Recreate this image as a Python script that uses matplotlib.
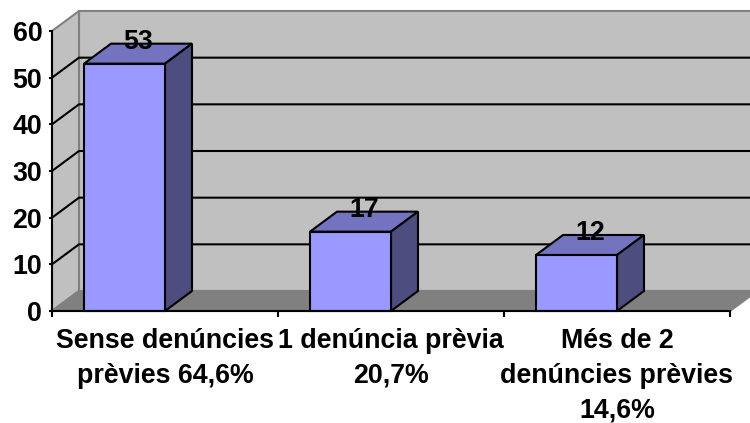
import matplotlib
matplotlib.use("Agg")
import matplotlib.pyplot as plt
from matplotlib.patches import Polygon

# data
categories = ["Sense denúncies\nprèvies 64,6%", "1 denúncia prèvia\n20,7%", "Més de 2\ndenúncies prèvies\n14,6%"]
values = [53, 17, 12]
y_ticks = [0, 10, 20, 30, 40, 50, 60]

# fake 3d depth, in data units
DX = 27 / 226
DY = 20 / (280 / 60)
BAR_W = 81 / 226
LW = 1.5
FS = 19.3

plt.rcParams["font.family"] = ["Liberation Sans", "DejaVu Sans"]
plt.rcParams["font.weight"] = "bold"

W, H = 750, 423
fig = plt.figure(figsize=(W / 100, H / 100), dpi=100)
ax = fig.add_axes([52 / W, 1 - 311 / H, 678 / W, 280 / H])
ax.set_xlim(-0.5, 2.5)
ax.set_ylim(0, 60)
ax.patch.set_visible(False)

# walls and floor
x0, x1 = -0.5, 2.5
y1 = 60
wall_kw = dict(clip_on=False, joinstyle="miter")
ax.add_patch(Polygon([(x0 + DX, DY), (x1 + DX, DY), (x1 + DX, y1 + DY), (x0 + DX, y1 + DY)],
                     fc="#C0C0C0", ec="#808080", lw=LW, zorder=1, **wall_kw))
ax.add_patch(Polygon([(x0, 0), (x0 + DX, DY), (x0 + DX, y1 + DY), (x0, y1)],
                     fc="#C0C0C0", ec="#808080", lw=LW, zorder=1, **wall_kw))
ax.add_patch(Polygon([(x0, 0), (x1, 0), (x1 + DX, DY), (x0 + DX, DY)],
                     fc="#808080", ec="#808080", lw=LW, zorder=1, **wall_kw))

# gridlines, side wall then back wall
for t in y_ticks[1:-1]:
    ax.plot([x0, x0 + DX, x1 + DX], [t, t + DY, t + DY], color="black", lw=LW, zorder=2,
            clip_on=False, solid_joinstyle="miter")

# bars
for i, v in enumerate(values):
    left, right = i - BAR_W, i
    ax.add_patch(Polygon([(left, v), (right, v), (right + DX, v + DY), (left + DX, v + DY)],
                         fc="#7373BF", ec="black", lw=LW, zorder=3, clip_on=False))
    ax.add_patch(Polygon([(right, 0), (right + DX, DY), (right + DX, v + DY), (right, v)],
                         fc="#4D4D80", ec="black", lw=LW, zorder=3, clip_on=False))
    ax.add_patch(Polygon([(left, 0), (right, 0), (right, v), (left, v)],
                         fc="#9999FF", ec="black", lw=LW, zorder=4, clip_on=False))
    ax.text(i - BAR_W / 2 + DX / 2, v + DY + 0.4, str(v), ha="center", va="center",
            fontsize=FS, zorder=5)

# axes
for s in ["top", "right"]:
    ax.spines[s].set_visible(False)
for s in ["left", "bottom"]:
    ax.spines[s].set_linewidth(LW)
    ax.spines[s].set_zorder(6)
ax.set_yticks(y_ticks)
ax.tick_params(axis="y", length=2.5, width=LW, labelsize=FS, pad=4.5)
ax.set_xticks([-0.5, 0.5, 1.5, 2.5])
ax.set_xticklabels([])
ax.tick_params(axis="x", which="major", length=4, width=LW)
ax.set_xticks([0, 1, 2], minor=True)
ax.set_xticklabels(categories, minor=True, fontsize=FS, linespacing=1.45)
ax.tick_params(axis="x", which="minor", length=0, pad=12)

fig.savefig("out.png", dpi=100)
